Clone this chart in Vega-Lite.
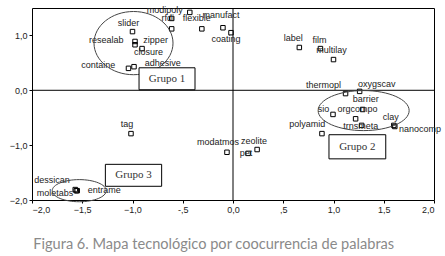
{
  "$schema": "https://vega.github.io/schema/vega-lite/v6.json",
  "width": 402,
  "height": 192,
  "autosize": {"type": "none"},
  "padding": {"left": 32, "top": 8, "right": 11, "bottom": 56},
  "background": "white",
  "title": {
    "text": "Figura 6. Mapa tecnológico por coocurrencia de palabras",
    "orient": "bottom",
    "anchor": "start",
    "font": "Lato",
    "fontSize": 14.6,
    "fontWeight": "normal",
    "color": "#8a8a8a",
    "offset": 23,
    "dx": 24
  },
  "config": {
    "view": {"stroke": "#000", "strokeWidth": 1},
    "axis": {
      "domain": false,
      "grid": false,
      "ticks": true,
      "tickColor": "#000",
      "tickSize": 3,
      "labelFont": "Liberation Sans",
      "labelFontSize": 9,
      "labelColor": "#222",
      "labelPadding": 2,
      "title": null
    }
  },
  "datasets": {
    "pts": [
      {"term": "slider", "x": -1.0, "y": 1.07, "lx": -1.04, "ly": 1.23},
      {"term": "resealab", "x": -0.975, "y": 0.89, "lx": -1.26, "ly": 0.91},
      {"term": "zipper", "x": -0.975, "y": 0.83, "lx": -0.77, "ly": 0.92},
      {"term": "closure", "x": -0.905, "y": 0.76, "lx": -0.84, "ly": 0.69},
      {"term": "containe", "x": -1.04, "y": 0.40, "lx": -1.34, "ly": 0.47},
      {"term": "adhesive", "x": -0.985, "y": 0.43, "lx": -0.70, "ly": 0.49},
      {"term": "modipoly", "x": -0.61, "y": 1.31, "lx": -0.68, "ly": 1.46},
      {"term": "rfdi", "x": -0.61, "y": 1.12, "lx": -0.65, "ly": 1.31},
      {"term": "flexible", "x": -0.31, "y": 1.12, "lx": -0.36, "ly": 1.31},
      {"term": "manufact", "x": -0.10, "y": 1.14, "lx": -0.12, "ly": 1.38},
      {"term": "coating", "x": -0.02, "y": 1.05, "lx": -0.07, "ly": 0.94},
      {"term": "", "x": -0.43, "y": 1.42, "lx": -0.43, "ly": 1.42},
      {"term": "label", "x": 0.66, "y": 0.78, "lx": 0.60, "ly": 0.96},
      {"term": "film", "x": 0.87, "y": 0.76, "lx": 0.86, "ly": 0.92},
      {"term": "multilay", "x": 1.0, "y": 0.56, "lx": 0.98, "ly": 0.74},
      {"term": "thermopl", "x": 1.12, "y": -0.06, "lx": 0.90, "ly": 0.10},
      {"term": "oxygscav", "x": 1.26, "y": -0.02, "lx": 1.43, "ly": 0.12},
      {"term": "barrier", "x": 1.29, "y": -0.35, "lx": 1.32, "ly": -0.15},
      {"term": "sio", "x": 0.995, "y": -0.44, "lx": 0.90, "ly": -0.35},
      {"term": "orgcompo", "x": 1.22, "y": -0.52, "lx": 1.24, "ly": -0.35},
      {"term": "clay", "x": 1.60, "y": -0.64, "lx": 1.57, "ly": -0.48},
      {"term": "nanocomp", "x": 1.61, "y": -0.66, "lx": 1.86, "ly": -0.70},
      {"term": "trnsmeta", "x": 1.28, "y": -0.64, "lx": 1.27, "ly": -0.66},
      {"term": "polyamid", "x": 0.885, "y": -0.79, "lx": 0.74, "ly": -0.62},
      {"term": "tag", "x": -1.015, "y": -0.79, "lx": -1.055, "ly": -0.62},
      {"term": "dessican", "x": -1.57, "y": -1.81, "lx": -1.80, "ly": -1.63},
      {"term": "moletabs", "x": -1.56, "y": -1.83, "lx": -1.77, "ly": -1.87},
      {"term": "entrame", "x": -1.55, "y": -1.83, "lx": -1.28, "ly": -1.81},
      {"term": "modatmos", "x": -0.06, "y": -1.13, "lx": -0.15, "ly": -0.95},
      {"term": "zeolite", "x": 0.24, "y": -1.08, "lx": 0.21, "ly": -0.92},
      {"term": "pet", "x": 0.15, "y": -1.15, "lx": 0.13, "ly": -1.15}
    ],
    "groups": [
      {"grupo": "Grupo 1", "x1": -0.935, "x2": -0.378, "y1": 0.41, "y2": 0.01, "cx": -0.657, "cy": 0.21},
      {"grupo": "Grupo 2", "x1": 0.955, "x2": 1.52, "y1": -0.81, "y2": -1.25, "cx": 1.237, "cy": -1.03},
      {"grupo": "Grupo 3", "x1": -1.27, "x2": -0.71, "y1": -1.35, "y2": -1.75, "cx": -0.99, "cy": -1.55}
    ]
  },
  "layer": [
    {
      "data": {"values": [{"v": 0}]},
      "mark": {"type": "rule", "color": "#000", "strokeWidth": 1},
      "encoding": {"x": {"field": "v", "type": "quantitative", "scale": {"domain": [-2, 2], "nice": false}}}
    },
    {
      "data": {"values": [{"v": 0}]},
      "mark": {"type": "rule", "color": "#000", "strokeWidth": 1},
      "encoding": {"y": {"field": "v", "type": "quantitative", "scale": {"domain": [-2, 1.5], "nice": false}}}
    },
    {
      "data": {"name": "pts"},
      "mark": {"type": "point", "shape": "square", "size": 20, "filled": false, "stroke": "#000", "strokeWidth": 1, "opacity": 1},
      "encoding": {
        "x": {
          "field": "x", "type": "quantitative",
          "scale": {"domain": [-2, 2], "nice": false},
          "axis": {
            "values": [-2, -1.5, -1, -0.5, 0, 0.5, 1, 1.5, 2],
            "labelExpr": "datum.value == 0 ? '0,0' : datum.value == 0.5 ? ',5' : datum.value == -0.5 ? '-,5' : replace(format(datum.value, '.1f'), '.', ',')"
          }
        },
        "y": {
          "field": "y", "type": "quantitative",
          "scale": {"domain": [-2, 1.5], "nice": false},
          "axis": {
            "values": [-2, -1.5, -1, -0.5, 0, 0.5, 1, 1.5],
            "labelExpr": "datum.value == 0 ? '0,0' : datum.value == 0.5 ? ',5' : datum.value == -0.5 ? '-,5' : replace(format(datum.value, '.1f'), '.', ',')"
          }
        }
      }
    },
    {
      "data": {"name": "pts"},
      "mark": {"type": "text", "font": "Liberation Sans", "fontSize": 9, "color": "#222", "align": "center", "baseline": "middle"},
      "encoding": {
        "x": {"field": "lx", "type": "quantitative"},
        "y": {"field": "ly", "type": "quantitative"},
        "text": {"field": "term"}
      }
    },
    {
      "data": {"values": [{"x": -0.99, "y": 0.86}]},
      "mark": {"type": "point", "shape": "M-1,0C-1,-0.442,-0.552,-0.8,0,-0.8C0.552,-0.8,1,-0.442,1,0C1,0.442,0.552,0.8,0,0.8C-0.552,0.8,-1,0.442,-1,0Z", "size": 6241, "filled": false, "stroke": "#444", "strokeWidth": 1, "opacity": 1},
      "encoding": {"x": {"field": "x", "type": "quantitative"}, "y": {"field": "y", "type": "quantitative"}}
    },
    {
      "data": {"values": [{"x": 1.30, "y": -0.37}]},
      "mark": {"type": "point", "shape": "M-1,0C-1,-0.243,-0.552,-0.44,0,-0.44C0.552,-0.44,1,-0.243,1,0C1,0.243,0.552,0.44,0,0.44C-0.552,0.44,-1,0.243,-1,0Z", "size": 8281, "filled": false, "stroke": "#444", "strokeWidth": 1, "opacity": 1},
      "encoding": {"x": {"field": "x", "type": "quantitative"}, "y": {"field": "y", "type": "quantitative"}}
    },
    {
      "data": {"values": [{"x": -1.53, "y": -1.83}]},
      "mark": {"type": "point", "shape": "M-1,0C-1,-0.226,-0.552,-0.41,0,-0.41C0.552,-0.41,1,-0.226,1,0C1,0.226,0.552,0.41,0,0.41C-0.552,0.41,-1,0.226,-1,0Z", "size": 2916, "filled": false, "stroke": "#444", "strokeWidth": 1, "opacity": 1},
      "encoding": {"x": {"field": "x", "type": "quantitative"}, "y": {"field": "y", "type": "quantitative"}}
    },
    {
      "data": {"name": "groups"},
      "mark": {"type": "rect", "fill": "white", "stroke": "#000", "strokeWidth": 1},
      "encoding": {
        "x": {"field": "x1", "type": "quantitative"},
        "x2": {"field": "x2"},
        "y": {"field": "y1", "type": "quantitative"},
        "y2": {"field": "y2"}
      }
    },
    {
      "data": {"name": "groups"},
      "mark": {"type": "text", "font": "Liberation Serif", "fontSize": 11, "color": "#333", "align": "center", "baseline": "middle"},
      "encoding": {
        "x": {"field": "cx", "type": "quantitative"},
        "y": {"field": "cy", "type": "quantitative"},
        "text": {"field": "grupo"}
      }
    }
  ]
}
